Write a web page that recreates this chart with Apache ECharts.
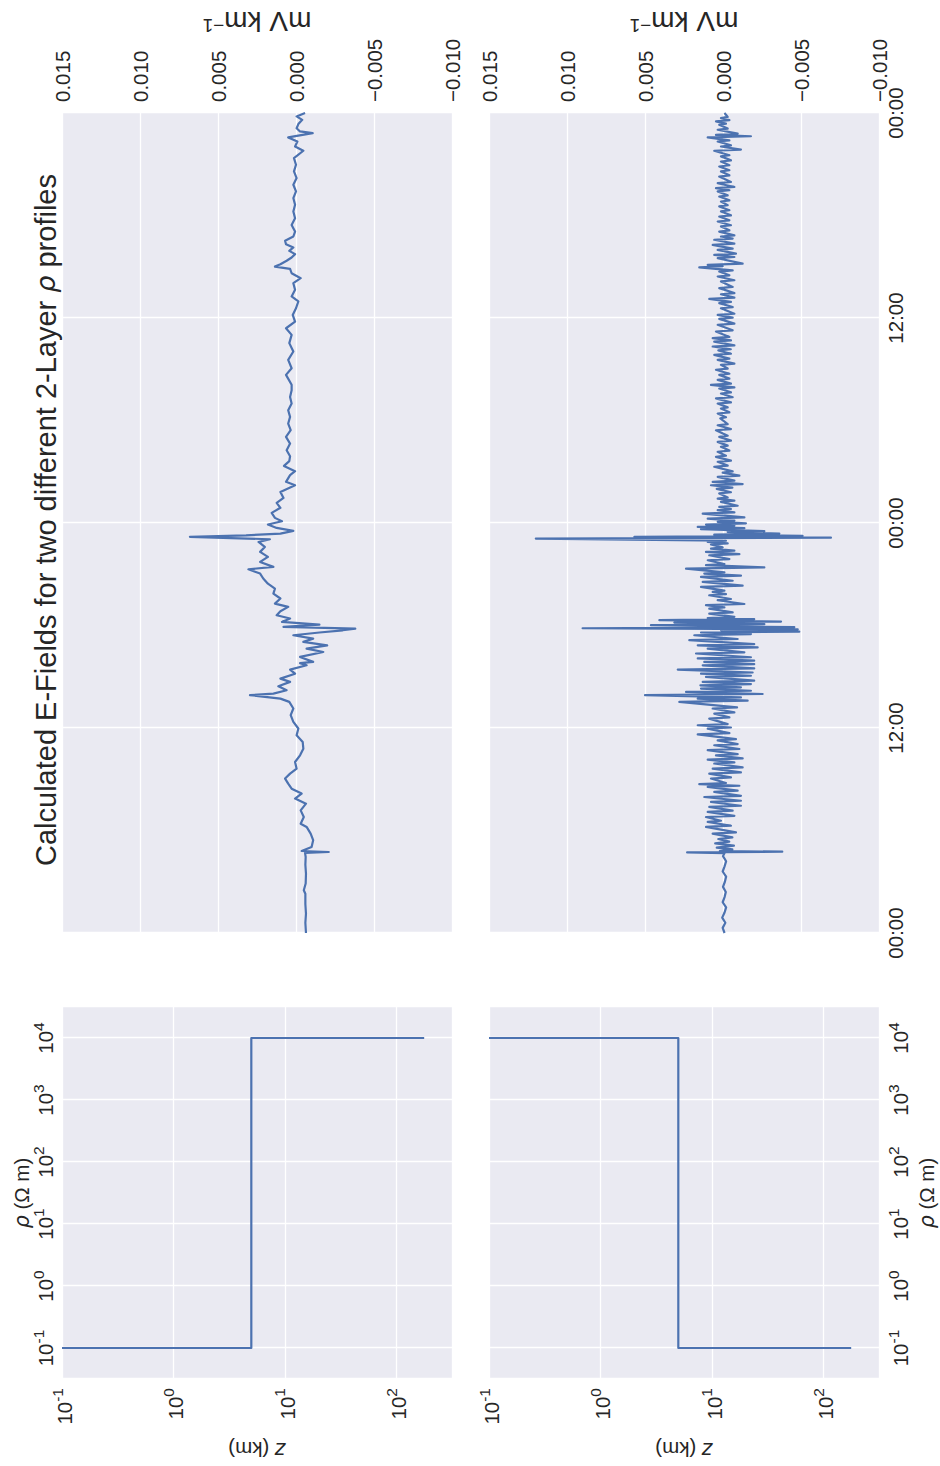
<!DOCTYPE html>
<html>
<head>
<meta charset="utf-8">
<script src="https://cdn.jsdelivr.net/npm/echarts@6.0.0/dist/echarts.min.js"></script>
<style>
html,body{margin:0;padding:0;background:#ffffff;overflow:hidden;width:940px;height:1466px;}
#wrap{position:absolute;left:0;top:0;width:1466px;height:940px;transform-origin:0 0;transform:translate(0,1466px) rotate(-90deg);}
#chart{width:1466px;height:940px;}
</style>
</head>
<body>
<div id="wrap"><div id="chart"></div></div>
<script>
// ---------------- DATA ----------------
// 2-layer resistivity profiles: depth edges (km) and layer resistivities (Ohm m)
const profileDepthKm = [0.1, 5, 178];
const profileRho1 = [0.1, 10000];
const profileRho2 = [10000, 0.1];

// Time tick labels (hours 0,12,24,36,48)
const timeTickLabels = ['00:00', '12:00', '00:00', '12:00', '00:00'];
// E-field tick labels (-0.010 .. 0.015)
const efTickLabels = ['\u22120.010', '\u22120.005', '0.000', '0.005', '0.010', '0.015'];

// Calculated E-field, profile 1 : [hour, mV/km]
const efieldTop = [
[0.00,-0.00064],[0.6,-0.0006],[1.13,-0.00064],[1.7,-0.0006],[2.30,-0.0006],[2.5,-0.0005],[2.9,-0.00062],[3.47,-0.00064],[4.0,-0.0006],[4.45,-0.00062],[4.69,-0.00058],[4.74,-0.0021],[4.80,-0.00036],[5.04,-0.001],[5.43,-0.0011],[5.82,-0.00094],[6.21,-0.00068],[6.40,-0.0003],[6.79,-0.0005],[7.18,-0.0003],[7.57,-0.00064],[7.87,0.00006],[8.16,-0.00036],[8.45,0.00028],[8.74,0.0005],[9.04,0.0007],[9.33,0.00038],[9.62,-0.00004],[10.01,0.00006],[10.40,-0.00026],[10.79,-0.00047],[11.18,-0.00043],[11.57,-0.00004],[11.97,-0.00015],[12.36,0.00017],[12.75,0.00034],[13.14,0.00017],[13.53,0.00043],[13.72,0.001],[13.92,0.00295],[14.01,0.00145],[14.21,0.0006],[14.44,0.00113],[14.70,0.00038],[14.89,0.001],[15.18,0.00006],[15.42,0.00038],[15.67,-0.00068],[15.80,-0.00026],
[15.87,-0.0011],[16.16,-0.00026],[16.45,-0.00175],[16.65,-0.00068],[16.84,-0.002],[17.04,-0.00047],[17.23,-0.0011],[17.43,0.00017],[17.59,-0.0015],[17.72,-0.003],[17.82,-0.0038],[17.92,0.0008],[18.05,-0.0015],[18.21,0.0009],[18.41,0.00038],[18.60,0.00124],[18.83,0.001],[19.09,0.0005],[19.28,0.00135],[19.58,0.001],[19.87,0.00145],[20.16,0.00135],[20.45,0.0018],[20.75,0.0021],[21.04,0.0023],[21.29,0.00305],[21.43,0.00145],[21.72,0.0023],[22.02,0.0018],[22.31,0.0023],[22.60,0.002],[22.89,0.0024],[23.05,0.00167],[23.19,0.0068],[23.28,0.0032],[23.38,0.001],[23.54,0.00017],[23.71,0.00124],[23.91,0.0018],[24.10,0.0009],[24.30,0.00135],[24.59,0.00156],[24.89,0.001],[25.18,0.00124],[25.47,0.0008],[25.82,0.001],[26.21,0.00006],[26.41,0.00064],[26.80,0.00038],[27.03,0.00006],[27.34,0.00077],[27.62,0.00043],[27.91,0.00038],[28.26,0.0006],[28.65,0.00038],[29.04,0.00064],[29.43,0.00034],[29.82,0.0005],[30.21,0.00038],[30.60,0.0005],[30.99,0.00028],[31.38,0.00038],[31.77,0.00028],
[32.09,0.00028],[32.67,0.00064],[33.06,0.00028],[33.55,0.0005],[34.04,0.00017],[34.53,0.00043],[35.01,0.00028],[35.40,0.00064],[35.79,0.00006],[36.18,0.00021],[36.57,0],[36.97,-0.00015],[37.26,0.00028],[37.65,0.00006],[38.04,0.00017],[38.33,-0.0003],[38.62,0.00028],[38.88,0.00038],[39.01,0.00135],[39.15,0.001],[39.35,0.0006],[39.54,0.00028],[39.74,0.00006],[39.93,0.00043],[40.13,0.00017],[40.32,0.00064],[40.52,0.0007],[40.77,0.00017],[41.06,0.00006],[41.45,0.00028],[41.84,0.00006],[42.23,0.00017],[42.63,0.00006],[43.02,0.00017],[43.41,0],[43.80,0.00017],[44.19,-0.00004],[44.58,0.00013],[44.97,0],[45.36,0.00013],[45.79,-0.00047],[46.04,0.00006],[46.33,-0.00009],[46.57,0.0005],[46.82,-0.00107],[46.92,-0.00026],[47.11,-0.00004],[47.35,-0.00015],[47.60,-0.0004],[47.80,-0.00004],[48.0,-0.00058]
];

// Calculated E-field, profile 2 : [hour, mV/km]
const efieldBottom = [
[0,-0.0001],[0.3,0.00002],[0.6,-0.00015],[0.9,0.00005],[1.2,-0.0001],[1.5,-0.0002],[1.8,0.00002],[2.1,-0.0001],[2.4,-0.00018],[2.7,0],[3.0,-0.00012],[3.3,-0.0002],[3.6,0.00002],[3.9,-0.0001],[4.2,-0.0002],[4.5,0],[4.68,-0.0001],
[4.72,0.0023],[4.76,-0.0038],[4.80,0.0002],[4.9,-0.0006],[5.0,0.0004],[5.12,-0.0007],[5.25,0.0005],[5.35,-0.0004],[5.5,0.0003],[5.6,-0.0006],
[5.82,0.00066],[5.89,-0.00083],[6.21,0.00109],[6.28,-0.00051],[6.50,0.00098],[6.57,0.00013],[6.79,0.00109],[6.86,-0.00073],[7.09,0.00098],[7.16,-0.00062],[7.38,0.00088],[7.45,-0.00115],[7.67,0.00077],[7.74,-0.00115],[7.96,0.0012],[8.03,-0.00115],[8.26,0.00056],[8.33,-0.00094],[8.55,0.00098],[8.62,-0.00105],[8.71,0.00152],[8.78,-0.00019],[9.04,0.00077],[9.11,-0.00051],[9.33,0.00088],[9.40,-0.00115],[9.62,0.00066],[9.69,-0.00126],[9.92,0.00056],[9.99,-0.00073],[10.15,0.00098],[10.22,-0.00126],[10.40,0.00045],[10.47,-0.00094],[10.70,0.00098],[10.77,-0.00105],[10.99,0.00056],[11.06,-0.00094],[11.28,0.00034],[11.35,-0.00083],[11.63,0.00162],[11.70,-0.00041],[11.96,0.00098],[12.03,-0.00051],[12.16,0.00162],[12.23,-0.0003],[12.55,0.00088],[12.62,-0.00041],[12.84,0.00056],[12.91,-0.00073],[13.14,0.00066],[13.21,-0.0009],[13.53,0.0028],[13.60,-0.00158],[13.72,0.00162],[13.79,-0.00115],[13.92,0.005],[13.99,-0.00254],[14.11,0.00237],[14.18,-0.00179],[14.31,0.00141],[14.38,-0.00115],[14.50,0.00145],[14.57,-0.00179],[14.70,0.0013],[14.77,-0.002],[14.99,0.00109],[15.06,-0.00179],[15.18,0.00141],[15.25,-0.0019],[15.42,0.0029],[15.49,-0.002],[15.67,0.0013],[15.74,-0.002],[15.87,0.0012],[15.94,-0.002],
[16.07,0.00162],[16.14,-0.00179],[16.36,0.00173],[16.43,-0.00137],[16.65,0.00098],[16.72,-0.00222],[16.84,0.00162],[16.91,-0.002],[17.14,0.00216],[17.21,-0.00094],[17.43,0.00184],[17.50,-0.00179],[17.59,0.00141],[17.64,-0.00489],[17.72,0.00013],[17.77,-0.00479],[17.84,0.009],[17.90,-0.00457],[18.02,0.00462],[18.08,-0.00265],[18.17,0.00312],[18.23,-0.00372],[18.31,0.00408],[18.37,-0.002],[18.44,0.00098],[18.51,-0.00073],[18.70,0.00088],[18.77,-0.00062],[18.99,0.00088],[19.06,-0.00009],[19.19,0.00109],[19.26,-0.00137],[19.48,0.00034],[19.55,-0.00051],[19.77,0.00088],[19.84,-0.00019],[19.97,0.00066],[20.04,-0.00009],[20.26,0.00141],[20.33,-0.00126],[20.55,0.0013],[20.62,-0.00062],[20.85,0.00141],[20.92,-0.00115],[21.04,0.0012],[21.11,-0.00009],[21.33,0.00237],[21.40,-0.00265],[21.53,0.00109],[21.60,-0.00009],[21.82,0.00098],[21.89,-0.00041],[22.11,0.00088],[22.18,-0.00105],[22.31,0.00109],[22.38,-0.00073],[22.50,0.00077],[22.57,0.00002],[22.74,0.00077],[22.81,-0.0003],[22.89,0.00098],[22.96,-0.00019],
[23.09,0.012],[23.14,-0.00692],[23.19,0.00568],[23.25,-0.0051],[23.32,0.00056],[23.38,-0.00361],[23.48,-0.0003],[23.52,-0.00265],[23.64,0.00141],[23.70,-0.00137],[23.77,0.00162],[23.84,-0.00073],[23.91,0.00109],[23.98,-0.00147],[24.07,0.00034],[24.14,-0.00073],[24.26,0.00098],[24.33,-0.00137],[24.55,0.0013],[24.62,-0.00073],[24.75,0.00034],[24.82,-0.00051],[24.94,0.00024],[25.01,-0.00094],[25.24,0.00013],[25.31,-0.00073],[25.43,0.00034],[25.50,-0.0003],[25.73,0.00024],[25.80,-0.00051],[26.0,0.0004],[26.07,-0.0006],[26.21,0.00077],[26.28,-0.00126],[26.41,0.00066],[26.48,-0.00073],[26.70,0.00034],[26.77,-0.00105],[26.95,0.00002],[27.02,-0.00062],[27.29,0.00056],[27.36,-0.0003],[27.58,0.00034],[27.65,-0.00051],[27.87,0.00045],[27.94,-0.00019],[28.17,0.00034],[28.24,-0.00041],[28.46,0.00013],[28.53,-0.0003],[28.75,0.00034],[28.82,-0.00051],[29.04,0.00024],[29.11,-0.0003],[29.43,0.00045],[29.50,-0.00051],[29.72,0.00034],[29.79,-0.0003],[30.12,0.00017],[30.19,-0.00019],[30.41,0.00034],[30.48,-0.00041],[30.70,0.00013],[30.77,-0.0003],[30.99,0.00034],[31.06,-0.00051],[31.29,0.00045],[31.36,-0.00062],[31.58,0.00013],[31.65,-0.00051],[31.87,0.00024],[31.94,-0.00073],
[32.09,0.00077],[32.16,-0.00051],[32.38,0.00034],[32.45,-0.00041],[32.67,0.00024],[32.74,-0.00041],[32.97,0.00045],[33.04,-0.0003],[33.26,0.00013],[33.33,-0.00073],[33.55,0.00034],[33.62,-0.00041],[33.84,0.00056],[33.91,-0.00051],[34.1,0.0003],[34.17,-0.0005],[34.33,0.00066],[34.40,-0.00073],[34.62,0.00056],[34.69,-0.00051],[34.82,0.00066],[34.89,-0.00041],[35.21,0.00045],[35.28,-0.00062],[35.60,0.00034],[35.67,-0.00073],[35.95,0.00024],[36.02,-0.00062],[36.18,0.00034],[36.25,-0.00073],[36.57,0.00013],[36.64,-0.00062],[36.87,0.00024],[36.94,-0.00051],[37.12,0.00088],[37.19,-0.00073],[37.39,0.00013],[37.46,-0.00073],[37.75,0.00024],[37.82,-0.00062],[38.14,0.00013],[38.21,-0.00073],[38.43,0.00034],[38.50,-0.00041],[38.72,0.00024],[38.79,-0.00062],[38.96,0.00152],[39.03,0.00002],[39.11,0.00098],[39.18,-0.00126],[39.50,0.00034],[39.57,-0.00073],[39.70,0.00056],[39.77,-0.00083],[39.99,0.00034],[40.06,-0.00062],[40.28,0.00066],[40.35,-0.00073],[40.58,0.00056],[40.65,-0.00062],[40.77,0.00013],[40.84,-0.00073],[41.06,0.00024],[41.13,-0.00041],[41.36,0.00013],[41.43,-0.00051],[41.65,0.00034],[41.72,-0.00041],[41.94,0.00024],[42.01,-0.00051],[42.24,0.00013],[42.31,-0.00041],[42.53,0.00024],[42.60,-0.0003],[42.82,0.00013],[42.89,-0.00041],[43.11,0.00024],[43.18,-0.0003],[43.41,0.00034],[43.48,-0.00041],[43.60,0.00045],[43.67,-0.00073],[43.89,0.00034],[43.96,-0.00051],[44.28,0.00024],[44.35,-0.00041],[44.58,0.00013],[44.65,-0.00041],[44.87,0.00024],[44.94,-0.00041],[45.16,0.00013],[45.23,-0.00051],[45.46,0.00013],[45.53,-0.00041],[45.79,0.00056],[45.86,-0.00115],[46.04,0.00013],[46.11,-0.00051],[46.33,0.00034],[46.40,-0.00041],[46.57,0.00098],[46.64,-0.00179],[46.72,0.00045],[46.79,-0.00094],[47.02,0.00034],[47.09,-0.0003],[47.31,0.00024],[47.38,-0.00019],[47.51,0.00045],[47.58,-0.00041],[47.70,0.00013],[47.77,-0.0003],[47.90,-0.00019],[48.0,-0.00009]
];

// ---------------- STYLE ----------------
const FONT = '"Liberation Sans", Arial, sans-serif';
const TXT = '#262626';
const BG = '#EAEAF2';
const LINE = '#4C72B0';
const TICK_FS = 20.5;

function stepProfile(rho, z) {
  return [[rho[0], z[0]], [rho[0], z[1]], [rho[1], z[1]], [rho[1], z[2]]];
}
function logLabel(v) {
  const e = Math.log10(v);
  const r = Math.round(e);
  if (Math.abs(e - r) > 1e-6) return '';
  return '{b|10}{s|' + r + '}';
}
const supRich = {
  b: { fontSize: TICK_FS, fontFamily: FONT, color: TXT, lineHeight: 26, verticalAlign: 'bottom' },
  s: { fontSize: 15.5, fontFamily: FONT, color: TXT, lineHeight: 15, verticalAlign: 'top' }
};
const nameRich = {
  i: { fontStyle: 'italic', fontFamily: '"DejaVu Sans", sans-serif', fontSize: TICK_FS, color: TXT }
};
const splitWhite = { show: true, lineStyle: { color: '#ffffff', width: 1.3 } };
const noLine = { show: false };

function gridCfg(l, t, w, h) {
  return { left: l, top: t, width: w, height: h, show: true, backgroundColor: BG, borderWidth: 0, containLabel: false, outerBoundsMode: 'none' };
}

function rhoAxis(gridIndex, pos, nameGap) {
  return {
    type: 'log', gridIndex: gridIndex, position: pos,
    min: Math.pow(10, -1.5), max: Math.pow(10, 4.5), logBase: 10,
    axisLine: noLine, axisTick: noLine, splitLine: splitWhite,
    axisLabel: { formatter: logLabel, margin: 6, rich: supRich, color: TXT, fontFamily: FONT, fontSize: TICK_FS },
    name: '{i|ρ} (Ω m)', nameLocation: 'middle', nameGap: nameGap, nameMoveOverlap: false,
    nameTextStyle: { fontFamily: FONT, fontSize: TICK_FS, color: TXT, rich: nameRich }
  };
}
function depthAxis(gridIndex) {
  return {
    type: 'log', gridIndex: gridIndex, position: 'left', inverse: true,
    min: 0.1, max: Math.pow(10, 2.5), logBase: 10,
    axisLine: noLine, axisTick: noLine, splitLine: splitWhite,
    axisLabel: { formatter: logLabel, margin: 9, rich: supRich, color: TXT, fontFamily: FONT, fontSize: TICK_FS },
    name: '{i|z} (km)', nameLocation: 'middle', nameRotate: 90, nameGap: 60, nameMoveOverlap: false,
    nameTextStyle: { fontFamily: FONT, fontSize: TICK_FS, color: TXT, rich: nameRich }
  };
}
function timeAxis(gridIndex, showLabels) {
  return {
    type: 'value', gridIndex: gridIndex, min: 0, max: 48, interval: 12,
    axisLine: noLine, axisTick: noLine, splitLine: splitWhite,
    axisLabel: {
      show: showLabels, margin: 6, color: TXT, fontFamily: FONT, fontSize: TICK_FS,
      formatter: function (v) { return timeTickLabels[Math.round(v / 12)]; }
    }
  };
}
function efAxis(gridIndex) {
  return {
    type: 'value', gridIndex: gridIndex, position: 'right',
    min: -0.01, max: 0.015, interval: 0.005,
    axisLine: noLine, axisTick: noLine, splitLine: splitWhite,
    axisLabel: {
      margin: 11, color: TXT, fontFamily: FONT, fontSize: TICK_FS,
      formatter: function (v) { return efTickLabels[Math.round((v + 0.01) / 0.005)]; }
    },
    name: 'mV km{s|\u22121}', nameLocation: 'middle', nameRotate: 90, nameGap: 78, nameMoveOverlap: false,
    nameTextStyle: {
      fontFamily: FONT, fontSize: 28, color: TXT,
      rich: { s: { fontFamily: FONT, fontSize: 19, color: TXT, lineHeight: 19, verticalAlign: 'top' } }
    }
  };
}
function lineSeries(xi, yi, data) {
  return {
    type: 'line', xAxisIndex: xi, yAxisIndex: yi, data: data,
    showSymbol: false, symbol: 'none', sampling: null, smooth: false,
    lineStyle: { color: LINE, width: 2.2, join: 'round' }, itemStyle: { color: LINE },
    emphasis: { disabled: true }, silent: true
  };
}

const chart = echarts.init(document.getElementById('chart'), null, { renderer: 'svg', width: 1466, height: 940 });
chart.setOption({
  animation: false,
  backgroundColor: '#ffffff',
  title: {
    text: 'Calculated E-Fields for two different 2-Layer {i|ρ} profiles',
    left: 946, top: 31, textAlign: 'center', padding: 0,
    textStyle: {
      fontFamily: FONT, fontSize: 29, fontWeight: 'normal', color: TXT,
      rich: { i: { fontStyle: 'italic', fontFamily: '"DejaVu Sans", sans-serif', fontSize: 27, color: TXT } }
    }
  },
  grid: [
    gridCfg(87, 62, 372, 390),
    gridCfg(533, 62, 820, 390),
    gridCfg(87, 489, 372, 390),
    gridCfg(533, 489, 820, 390)
  ],
  xAxis: [
    rhoAxis(0, 'top', 30),
    timeAxis(1, false),
    rhoAxis(2, 'bottom', 37),
    timeAxis(3, true)
  ],
  yAxis: [
    depthAxis(0),
    efAxis(1),
    depthAxis(2),
    efAxis(3)
  ],
  series: [
    lineSeries(0, 0, stepProfile(profileRho1, profileDepthKm)),
    lineSeries(1, 1, efieldTop),
    lineSeries(2, 2, stepProfile(profileRho2, profileDepthKm)),
    lineSeries(3, 3, efieldBottom)
  ]
});
</script>
</body>
</html>
